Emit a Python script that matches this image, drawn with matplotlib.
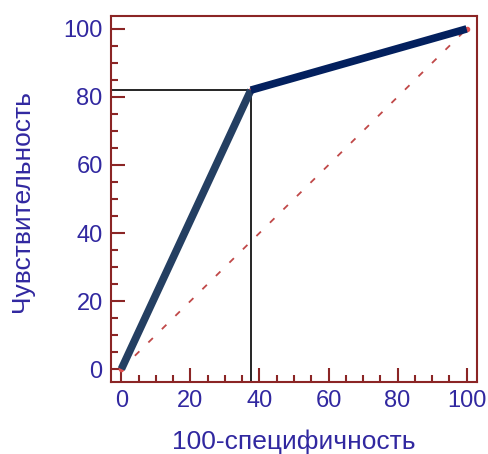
import matplotlib
matplotlib.use("Agg")
import matplotlib.pyplot as plt
from matplotlib.ticker import MultipleLocator

plt.rcParams['font.family'] = ['Liberation Sans', 'DejaVu Sans']

roc_x = [0, 37.5, 100]
roc_y = [0, 82, 100]
diag_x = [0, 100]
diag_y = [0, 100]
cut_x = 37.5
cut_y = 82
ticks = [0, 20, 40, 60, 80, 100]

spine_c = '#8b2525'
label_c = '#3128a0'

W, H = 489, 454
fig = plt.figure(figsize=(W/100, H/100), dpi=100)
ax = fig.add_axes([111/W, 1-382/H, (477-111)/W, (382-16)/H])
ax.set_xlim(-3, 103)
ax.set_ylim(-3.8, 103.8)

ax.plot(diag_x, diag_y, linestyle=(0, (3.5, 7)), color='#c04848', lw=1.3, zorder=1)
ax.plot([ax.get_xlim()[0], cut_x], [cut_y, cut_y], color='black', lw=1.2, zorder=2)
ax.plot([cut_x, cut_x], [ax.get_ylim()[0], cut_y], color='black', lw=1.2, zorder=2)
ax.plot(roc_x[:2], roc_y[:2], color='#243f62', lw=5.5, solid_capstyle='butt', zorder=3)
ax.plot(roc_x[1:], roc_y[1:], color='#03205e', lw=5.5, solid_capstyle='butt', zorder=3)
ax.plot(roc_x, roc_y, 'o', color='#e05050', ms=3, zorder=2)

for s in ax.spines.values():
    s.set_color(spine_c)
    s.set_linewidth(1.5)

ax.set_xticks(ticks)
ax.set_yticks(ticks)
ax.xaxis.set_minor_locator(MultipleLocator(5))
ax.yaxis.set_minor_locator(MultipleLocator(5))
ax.tick_params(which='both', direction='in', color=spine_c, width=1.5, labelcolor=label_c, labelsize=17)
ax.tick_params(which='major', length=10, pad=6)
ax.tick_params(which='minor', length=5)

fig.text(294/W, 1-442/H, '100-специфичность', color=label_c, fontsize=19,
         ha='center', va='center')
fig.text(22/W, 1-201/H, 'Чувствительность', color=label_c, fontsize=19,
         ha='center', va='center', rotation=90)

fig.savefig('out.png', dpi=100)
